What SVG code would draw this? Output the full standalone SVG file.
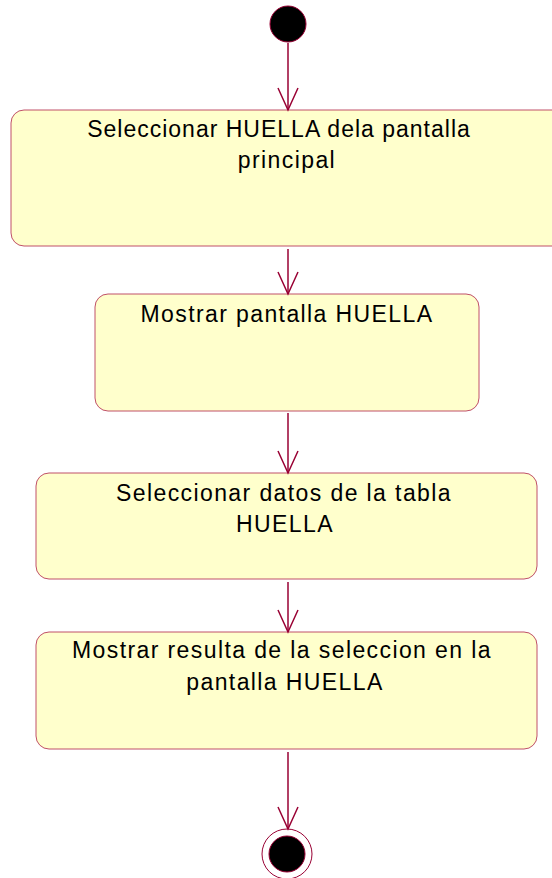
<svg xmlns="http://www.w3.org/2000/svg" width="552" height="878" viewBox="0 0 552 878">
<defs>
<style>
.box{fill:#ffffcc;stroke:#c05068;stroke-width:1}
.lbl{font-family:"Liberation Sans",Arial,sans-serif;font-size:23px;letter-spacing:1.4px;fill:#000;text-anchor:middle}
.edge{stroke:#990033;stroke-width:1.5;fill:none}
</style>
<marker id="arr" markerUnits="userSpaceOnUse" markerWidth="26" markerHeight="24" refX="23" refY="11" orient="auto" viewBox="0 0 26 24">
<path d="M1,1 L23,11 L1,21" fill="none" stroke="#990033" stroke-width="1.5"/>
</marker>
</defs>
<rect width="552" height="878" fill="#ffffff"/>
<g id="start">
<circle cx="288" cy="24" r="18" fill="#000" stroke="#990033" stroke-width="1"/>
</g>
<g id="n1">
<rect class="box" x="11" y="110" width="570" height="136" rx="13"/>
<text class="lbl" x="279" y="137" style="letter-spacing:1px">Seleccionar HUELLA dela pantalla</text>
<text class="lbl" x="287" y="168">principal</text>
</g>
<g id="n2">
<rect class="box" x="95" y="294" width="384" height="117" rx="13"/>
<text class="lbl" x="287" y="322">Mostrar pantalla HUELLA</text>
</g>
<g id="n3">
<rect class="box" x="36" y="473" width="501" height="106" rx="13"/>
<text class="lbl" x="284" y="501">Seleccionar datos de la tabla</text>
<text class="lbl" x="285" y="532">HUELLA</text>
</g>
<g id="n4">
<rect class="box" x="36" y="632" width="501" height="117" rx="13"/>
<text class="lbl" x="282" y="658">Mostrar resulta de la seleccion en la</text>
<text class="lbl" x="285" y="690">pantalla HUELLA</text>
</g>
<g id="end">
<circle cx="287" cy="854" r="25" fill="#fff" stroke="#990033" stroke-width="1"/>
<circle cx="287" cy="854" r="18" fill="#000" stroke="#990033" stroke-width="1"/>
</g>
<g id="edges">
<line class="edge" x1="288" y1="43" x2="288" y2="110" marker-end="url(#arr)"/>
<line class="edge" x1="288" y1="249" x2="288" y2="294" marker-end="url(#arr)"/>
<line class="edge" x1="288" y1="413" x2="288" y2="473" marker-end="url(#arr)"/>
<line class="edge" x1="288" y1="582" x2="288" y2="632" marker-end="url(#arr)"/>
<line class="edge" x1="288" y1="752" x2="288" y2="829" marker-end="url(#arr)"/>
</g>
</svg>
